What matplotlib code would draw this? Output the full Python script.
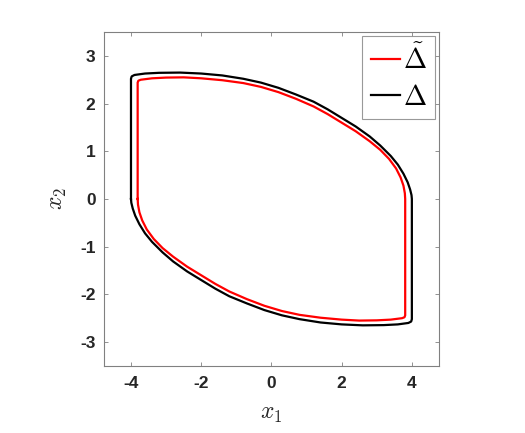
import numpy as np
import matplotlib
matplotlib.use('Agg')
import matplotlib.pyplot as plt

plt.rcParams['mathtext.fontset'] = 'cm'
plt.rcParams['font.family'] = ['Liberation Sans', 'DejaVu Sans']
plt.rcParams['axes.unicode_minus'] = False

# upper half of the boundary (left side bottom -> right side bottom)
black_upper_x = [-4.00, -4.00, -4.00, -3.98, -3.90, -3.60, -3.20, -2.60, -2.00, -1.40, -0.80, -0.30,
                 0.20, 0.70, 1.20, 1.60, 2.00, 2.40, 2.80, 3.10, 3.40, 3.60, 3.76, 3.88, 3.95, 3.99, 4.00]
black_upper_y = [0.00, 1.50, 2.52, 2.57, 2.60, 2.63, 2.645, 2.65, 2.63, 2.59, 2.52, 2.44,
                 2.33, 2.19, 2.04, 1.88, 1.70, 1.52, 1.31, 1.12, 0.90, 0.72, 0.53, 0.35, 0.20, 0.08, 0.00]
# lower half (right side top -> left side top)
black_lower_x = [4.00, 4.00, 4.00, 3.98, 3.90, 3.60, 3.20, 2.60, 2.00, 1.40, 0.80, 0.30,
                 -0.20, -0.70, -1.20, -1.60, -2.00, -2.40, -2.80, -3.10, -3.40, -3.60, -3.76, -3.88, -3.95, -3.99, -4.00]
black_lower_y = [0.00, -1.50, -2.52, -2.57, -2.60, -2.63, -2.645, -2.65, -2.63, -2.59, -2.52, -2.44,
                 -2.33, -2.19, -2.04, -1.88, -1.70, -1.52, -1.31, -1.12, -0.90, -0.72, -0.53, -0.35, -0.20, -0.08, 0.00]

red_upper_x = [-3.81, -3.81, -3.81, -3.79, -3.72, -3.40, -3.00, -2.50, -2.00, -1.40, -0.80, -0.30,
               0.20, 0.70, 1.20, 1.60, 2.00, 2.40, 2.80, 3.10, 3.35, 3.55, 3.68, 3.76, 3.80, 3.81]
red_upper_y = [0.00, 1.50, 2.44, 2.48, 2.50, 2.53, 2.545, 2.55, 2.53, 2.49, 2.43, 2.35,
               2.24, 2.10, 1.94, 1.78, 1.60, 1.42, 1.21, 1.03, 0.84, 0.64, 0.45, 0.28, 0.12, 0.00]
red_lower_x = [3.81, 3.81, 3.81, 3.79, 3.72, 3.40, 3.00, 2.50, 2.00, 1.40, 0.80, 0.30,
               -0.20, -0.70, -1.20, -1.60, -2.00, -2.40, -2.80, -3.10, -3.35, -3.55, -3.68, -3.76, -3.80, -3.81]
red_lower_y = [0.00, -1.50, -2.44, -2.48, -2.50, -2.53, -2.545, -2.55, -2.53, -2.49, -2.43, -2.35,
               -2.24, -2.10, -1.94, -1.78, -1.60, -1.42, -1.21, -1.03, -0.84, -0.64, -0.45, -0.28, -0.12, 0.00]

x_ticks = [-4, -2, 0, 2, 4]
y_ticks = [-3, -2, -1, 0, 1, 2, 3]

fig = plt.figure(figsize=(5.25, 4.33), dpi=100)
ax = fig.add_axes([0.198, 0.155, 0.638, 0.771])

ax.plot(red_upper_x + red_lower_x, red_upper_y + red_lower_y, color='#ff0000', lw=1.6,
        label=r'$\tilde{\Delta}$')
ax.plot(black_upper_x + black_lower_x, black_upper_y + black_lower_y, color='black', lw=1.6,
        label=r'$\Delta$')

ax.set_xlim(-4.77, 4.77)
ax.set_ylim(-3.5, 3.5)
ax.set_xticks(x_ticks)
ax.set_yticks(y_ticks)
ax.tick_params(direction='in', length=3, width=0.6, colors='#808080',
               top=True, right=True, labelcolor='#262626', labelsize=12.5)
ax.tick_params(axis='x', pad=7)
ax.tick_params(axis='y', pad=6)
for lab in ax.get_xticklabels() + ax.get_yticklabels():
    lab.set_fontweight('bold')
for sp in ax.spines.values():
    sp.set_color('#808080')
    sp.set_linewidth(0.8)

ax.set_xlabel(r'$x_1$', fontsize=17, color='#262626', labelpad=9)
ax.set_ylabel(r'$x_2$', fontsize=17, color='#262626', labelpad=8)

leg = ax.legend(loc='upper right', fontsize=20, handlelength=1.05, handletextpad=0.1,
                labelspacing=0.35, borderaxespad=0.15, borderpad=0.3, fancybox=False)
leg.get_frame().set_edgecolor('#808080')
leg.get_frame().set_linewidth(0.8)

fig.savefig('out.png', dpi=100)
